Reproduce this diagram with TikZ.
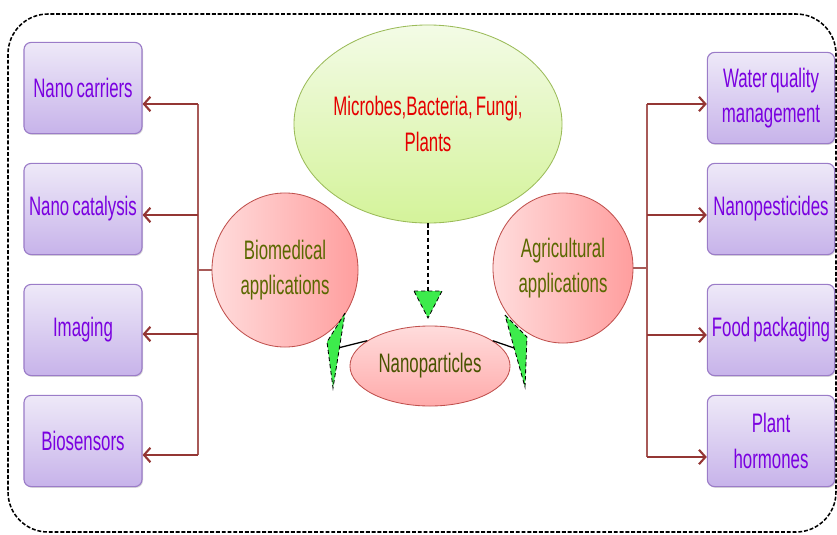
\documentclass[tikz,border=0pt]{standalone}
\usepackage{fontspec}
\setmainfont[FakeStretch=0.63,WordSpace=0.65]{Liberation Sans}
\usepackage{tikz}
\usetikzlibrary{shapes.geometric,arrows.meta,calc,positioning,shadows}
\definecolor{boxtop}{HTML}{EEE9F8}
\definecolor{boxbot}{HTML}{C7B3EA}
\definecolor{boxline}{HTML}{9B7CC8}
\definecolor{boxtext}{HTML}{7A00E0}
\definecolor{pinklight}{HTML}{FFDCDC}
\definecolor{pinkdark}{HTML}{FF9E9E}
\definecolor{pinkline}{HTML}{C0504D}
\definecolor{olivetext}{HTML}{5A6800}
\definecolor{limelight}{HTML}{F3FBE6}
\definecolor{limedark}{HTML}{D4F39A}
\definecolor{limeline}{HTML}{9BBB59}
\definecolor{arrowred}{HTML}{943634}
\definecolor{trunkred}{HTML}{A85A58}
\definecolor{tipgreen}{HTML}{3DEB4C}

\begin{document}
\begin{tikzpicture}[x=0.025cm,y=-0.025cm,
    font=\fontsize{19}{25}\selectfont,
    appbox/.style={rectangle,rounded corners=0.18cm,draw=boxline,line width=0.8pt,
      top color=boxtop,bottom color=boxbot,text=boxtext,align=center,
      minimum height=2.28cm,inner sep=1pt,
      drop shadow={shadow xshift=0.7pt,shadow yshift=-0.9pt,opacity=0.3}},
    leftbox/.style={appbox,minimum width=2.95cm},
    rightbox/.style={appbox,minimum width=3.18cm},
    appblob/.style={ellipse,draw=pinkline,line width=0.6pt,left color=pinklight,
      right color=pinkdark,text=olivetext,align=center,inner sep=0pt},
    brarrow/.style={-{Straight Barb[length=1.6mm,width=3.6mm]},draw=arrowred,line width=1.5pt},
    trunk/.style={draw=trunkred,line width=0.9pt},
    tipfill/.style={fill=tipgreen,draw=black,densely dashed,line width=0.6pt}]
  \useasboundingbox (0,0) rectangle (837,534);
  % Dashed frame
  \draw[line width=1.1pt,dash pattern=on 2.8pt off 1.3pt,rounded corners=1cm] (8,14) rectangle (836,532);
  % Source and the three ellipses
  \node[ellipse,draw=limeline,line width=0.6pt,top color=limelight,bottom color=limedark,
    text=red!90!black,align=center,minimum width=6.7cm,minimum height=4.95cm,inner sep=0pt]
    (src) at (428,124) {Microbes,Bacteria, Fungi,\\Plants};
  \node[appblob,minimum width=3.65cm,minimum height=3.85cm] (bio) at (285,270) {Biomedical\\applications};
  \node[appblob,minimum width=3.5cm,minimum height=3.75cm] (agr) at (563,268) {Agricultural\\applications};
  \node[appblob,top color=pinklight,bottom color=pinkdark!80!pinklight,minimum width=4cm,minimum height=2cm,
    text=olivetext!80!black] (nano) at (430,366) {Nanoparticles};
  % Left boxes
  \node[leftbox] (nc) at (83,88) {Nano carriers};
  \node[leftbox] (ncat) at (83,209) {Nano catalysis};
  \node[leftbox] (img) at (83,330) {Imaging};
  \node[leftbox] (bsen) at (83,441) {Biosensors};
  % Right boxes
  \node[rightbox] (wq) at (771,98) {Water quality\\management};
  \node[rightbox] (pest) at (771,209) {Nanopesticides};
  \node[rightbox] (food) at (771,330) {Food packaging};
  \node[rightbox] (horm) at (771,441) {Plant\\hormones};
  % Left branch
  \coordinate (l1) at (198,104);
  \coordinate (l2) at (198,215);
  \coordinate (l3) at (198,334);
  \coordinate (l4) at (198,455);
  \draw[trunk] (l1) -- (l4);
  \draw[trunk] (bio.west) -- (bio.west -| l1);
  \draw[brarrow] (l1) -- (l1 -| nc.east);
  \draw[brarrow] (l2) -- (l2 -| ncat.east);
  \draw[brarrow] (l3) -- (l3 -| img.east);
  \draw[brarrow] (l4) -- (l4 -| bsen.east);
  % Right branch
  \coordinate (r1) at (647,104);
  \coordinate (r2) at (647,215);
  \coordinate (r3) at (647,335);
  \coordinate (r4) at (647,457);
  \draw[trunk] (r1) -- (r4);
  \draw[trunk] (agr.east) -- (agr.east -| r1);
  \draw[brarrow] (r1) -- (r1 -| wq.west);
  \draw[brarrow] (r2) -- (r2 -| pest.west);
  \draw[brarrow] (r3) -- (r3 -| food.west);
  \draw[brarrow] (r4) -- (r4 -| horm.west);
  % Source down to nanoparticles
  \coordinate (dbase) at (428,291);
  \coordinate (dtip) at (428,318);
  \draw[densely dashed,line width=0.8pt] (src.south) -- (dbase);
  \filldraw[tipfill] (414,291) -- (442,291) -- (dtip) -- cycle;
  % Nanoparticles to the two applications
  \coordinate (lmid) at (338,348);
  \coordinate (rmid) at (517,349);
  \draw[line width=0.9pt] (nano.158) -- (lmid);
  \draw[line width=0.9pt] (nano.22) -- (rmid);
  \filldraw[tipfill] (345,313) -- (327,342) -- (333,388) -- cycle;
  \filldraw[tipfill] (505,315) -- (527,337) -- (525,387) -- cycle;
\end{tikzpicture}
\end{document}
